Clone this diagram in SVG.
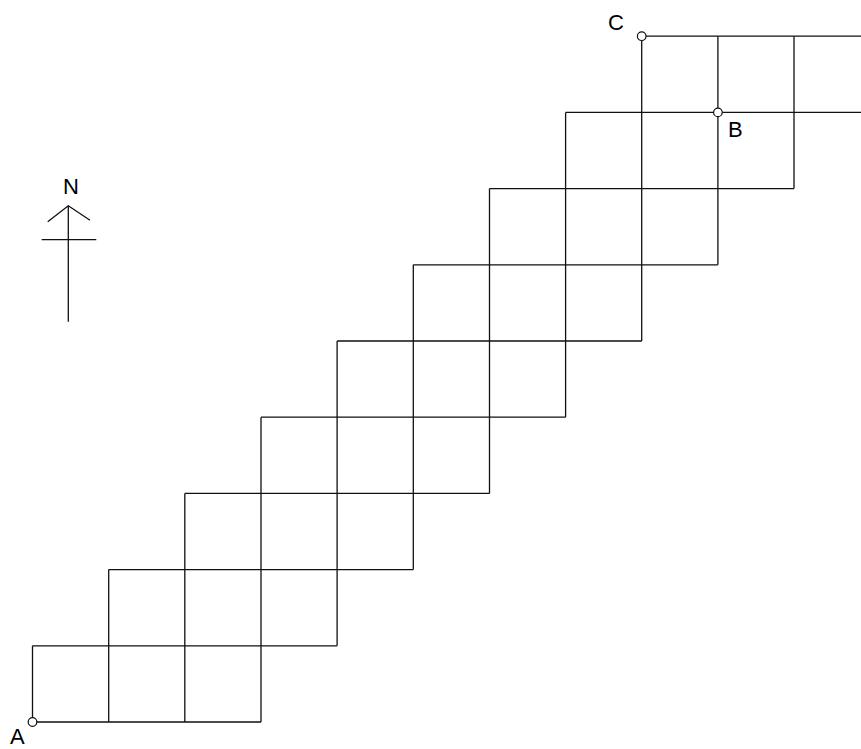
<svg xmlns="http://www.w3.org/2000/svg" width="861" height="749" viewBox="0 0 861 749">
<style>
.l{stroke:#111;stroke-width:1.3;fill:none}
.p{fill:#fff;stroke:#111;stroke-width:1.2}
text{font-family:"Liberation Sans",Arial,sans-serif;font-size:22px;fill:#000}
</style>
<rect width="861" height="749" fill="#fff"/>
<g id="grid" class="l">
<path d="M32.5 722H261M32.5 645.8H337.1M108.7 569.6H413.3M184.8 493.4H489.5M261 417.2H565.6M337.1 341H641.7M413.3 264.8H717.9M489.5 188.6H794M565.6 112.4H861M641.7 36.2H861"/>
<path d="M32.5 722V645.8M108.7 722V569.6M184.8 722V493.4M261 722V417.2M337.1 645.8V341M413.3 569.6V264.8M489.5 493.4V188.6M565.6 417.2V112.4M641.7 341V36.2M717.9 264.8V36.2M794 188.6V36.2"/>
</g>
<g id="north">
<path class="l" d="M68.3 205.7V321.7M47.7 221.7L68.3 205.7L90 220.3M41.7 239.7H96.3"/>
<text x="71" y="194" text-anchor="middle">N</text>
</g>
<g id="A"><circle class="p" cx="32.5" cy="722" r="4.3"/><text x="10" y="744">A</text></g>
<g id="B"><circle class="p" cx="717.9" cy="112.4" r="4.3"/><text x="728" y="137">B</text></g>
<g id="C"><circle class="p" cx="641.7" cy="36.2" r="4.3"/><text x="608" y="30">C</text></g>
</svg>
